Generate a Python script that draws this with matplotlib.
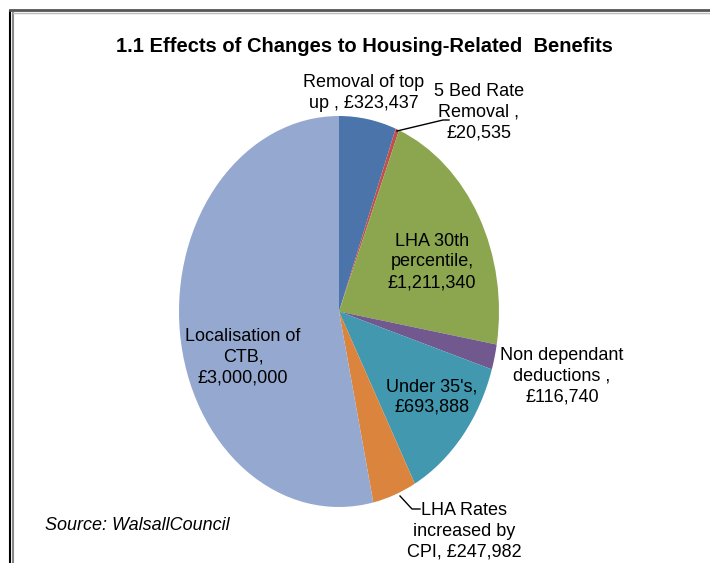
import matplotlib
matplotlib.use("Agg")
import matplotlib.pyplot as plt
from matplotlib.lines import Line2D

plt.rcParams['font.family'] = ['Liberation Sans Narrow', 'Liberation Sans', 'DejaVu Sans']

categories = ["Removal of top up", "5 Bed Rate Removal", "LHA 30th percentile",
              "Non dependant deductions", "Under 35's", "LHA Rates increased by CPI",
              "Localisation of CTB"]
values = [323437, 20535, 1211340, 116740, 693888, 247982, 3000000]
labels = ["Removal of top\nup , £323,437", "5 Bed Rate\nRemoval ,\n£20,535",
          "LHA 30th\npercentile,\n£1,211,340", "Non dependant\ndeductions ,\n£116,740",
          "Under 35's,\n£693,888", "LHA Rates\nincreased by\nCPI, £247,982",
          "Localisation of\nCTB,\n£3,000,000"]
colors = ["#4A74AA", "#C0504D", "#8BA64F", "#71588F", "#4198AF", "#DB843D", "#95A9D0"]

W, H = 710, 563
fig = plt.figure(figsize=(W / 100, H / 100), dpi=100)

# pie axes (elliptical pie)
px0, px1, py0, py1 = 179, 499, 116, 507
ax = fig.add_axes([px0 / W, 1 - py1 / H, (px1 - px0) / W, (py1 - py0) / H])
wedges, _ = ax.pie(values, colors=colors, startangle=90, counterclock=False,
                   radius=1.0, wedgeprops=dict(linewidth=0))
ax.set_aspect('auto')
ax.set_xlim(-1, 1)
ax.set_ylim(-1, 1)
ax.axis('off')

def fx(x):
    return x / W

def fy(y):
    return 1 - y / H

fs = 13
label_pos = [(364, 93), (479, 112), (432, 262), (562, 376), (432, 397), (464, 531), (243, 357)]
for lab, (x, y) in zip(labels, label_pos):
    fig.text(fx(x), fy(y), lab, ha='center', va='center', fontsize=fs,
             linespacing=1.3, color='black')

# leader lines
fig.add_artist(Line2D([fx(397), fx(443), fx(449)], [fy(131), fy(120), fy(120)],
                      color='black', linewidth=1.0))
fig.add_artist(Line2D([fx(400), fx(412), fx(420)], [fy(496), fy(509), fy(509)],
                      color='black', linewidth=1.0))

fig.text(fx(364), fy(47), "1.1 Effects of Changes to Housing-Related  Benefits",
         ha='center', va='center', fontsize=14.5, fontweight='bold')
fig.text(fx(45), fy(525), "Source: WalsallCouncil", ha='left', va='center',
         fontsize=13, style='italic')

# frame
fig.add_artist(Line2D([fx(10), fx(10)], [fy(11), 0], color='black', linewidth=1.5))
fig.add_artist(Line2D([fx(13), fx(13)], [fy(13), 0], color='#888888', linewidth=1.5))
fig.add_artist(Line2D([fx(10), 1], [fy(10), fy(10)], color='#555555', linewidth=2.0))
fig.add_artist(Line2D([fx(13), 1], [fy(13), fy(13)], color='#bbbbbb', linewidth=1.0))

fig.savefig("out.png", dpi=100)
